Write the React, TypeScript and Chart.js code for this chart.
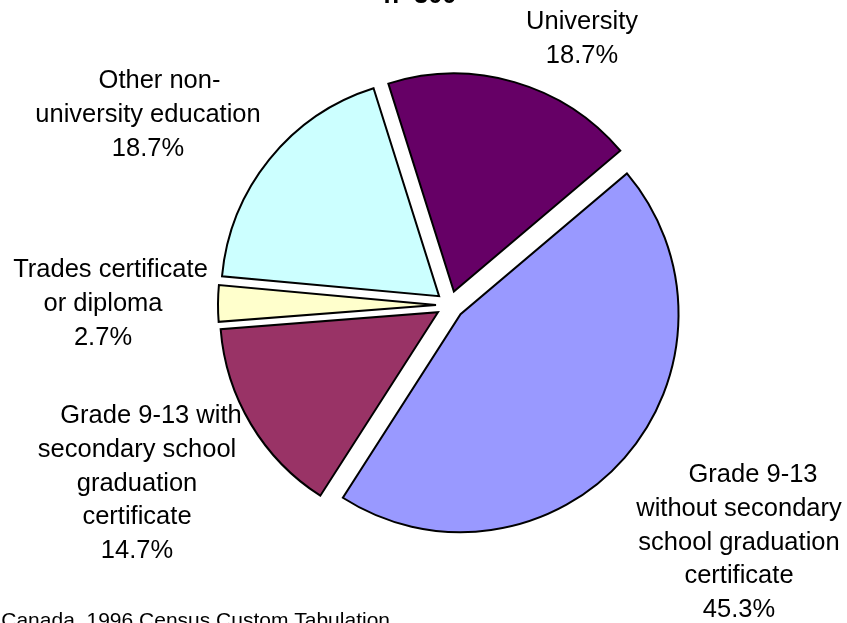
import React, { useEffect, useRef } from "react";
import { Chart, registerables } from "chart.js";

Chart.register(...registerables);

// ---- data ----
const categories = [
  "University",
  "Grade 9-13 without secondary school graduation certificate",
  "Grade 9-13 with secondary school graduation certificate",
  "Trades certificate or diploma",
  "Other non-university education",
];
const percentages = [18.7, 45.3, 14.7, 2.7, 18.7];
const sliceColors = ["#660066", "#9999FF", "#993366", "#FFFFCC", "#CCFFFF"];
const labelLines = [
  ["University"],
  ["Grade 9-13", "without secondary", "school graduation", "certificate"],
  ["Grade 9-13 with", "secondary school", "graduation", "certificate"],
  ["Trades certificate", "or diploma"],
  ["Other non-", "university education"],
];
const titleText = "n=300";
const sourceText = "Source: Statistics Canada, 1996 Census Custom Tabulation";

// ---- layout ----
const W = 847;
const H = 623;
const EXPLODE = 14;
const LABEL_FONT = '25.5px "Liberation Sans", Arial, sans-serif';
const LINE_H = 33.8;
const labelLayout = [
  { x: 582, firstX: 582, y: 29 },
  { x: 739, firstX: 753, y: 482 },
  { x: 137, firstX: 151, y: 423 },
  { x: 103, firstX: 110.5, y: 277 },
  { x: 148, firstX: 159.5, y: 88 },
];

const explodePlugin = {
  id: "explodeSlices",
  beforeDatasetDraw(chart: any, args: any) {
    const ctx = chart.ctx;
    args.meta.data.forEach((arc: any) => {
      const mid = (arc.startAngle + arc.endAngle) / 2;
      ctx.save();
      ctx.translate(Math.cos(mid) * EXPLODE, Math.sin(mid) * EXPLODE);
      arc.draw(ctx, chart.chartArea);
      ctx.restore();
    });
    return false;
  },
};

const textPlugin = {
  id: "pieText",
  afterDraw(chart: any) {
    const ctx = chart.ctx;
    ctx.save();
    ctx.fillStyle = "#000";
    ctx.textBaseline = "alphabetic";
    ctx.textAlign = "center";
    ctx.font = LABEL_FONT;
    labelLines.forEach((lines, i) => {
      const lay = labelLayout[i];
      const all = [...lines, `${percentages[i].toFixed(1)}%`];
      all.forEach((t, j) => {
        ctx.fillText(t, j === 0 ? lay.firstX : lay.x, lay.y + j * LINE_H);
      });
    });
    // title (mostly cropped at top)
    ctx.font = 'bold 25.5px "Liberation Sans", Arial, sans-serif';
    ctx.fillText(titleText, 420, 3);
    // source note (cropped at bottom-left)
    ctx.font = '21px "Liberation Sans", Arial, sans-serif';
    ctx.textAlign = "right";
    ctx.fillText(sourceText, 390, 627);
    ctx.restore();
  },
};

export default function App() {
  const ref = useRef<HTMLCanvasElement | null>(null);
  useEffect(() => {
    const canvas = ref.current;
    if (!canvas) return;
    const chart = new Chart(canvas, {
      type: "pie",
      data: {
        labels: categories,
        datasets: [
          {
            data: percentages,
            backgroundColor: sliceColors,
            borderColor: "#000000",
            borderWidth: 2,
            borderJoinStyle: "miter",
          } as any,
        ],
      },
      options: {
        responsive: false,
        animation: false,
        rotation: -17.5,
        radius: 218,
        layout: { padding: { left: 53, right: 0, top: 0, bottom: 13 } },
        plugins: {
          legend: { display: false },
          tooltip: { enabled: false },
          title: { display: false },
        },
        events: [],
      } as any,
      plugins: [explodePlugin, textPlugin],
    });
    return () => chart.destroy();
  }, []);
  return (
    <div style={{ position: "absolute", left: 0, top: 0, width: W, height: H, background: "#fff" }}>
      <canvas ref={ref} width={W} height={H} style={{ display: "block" }} />
    </div>
  );
}
